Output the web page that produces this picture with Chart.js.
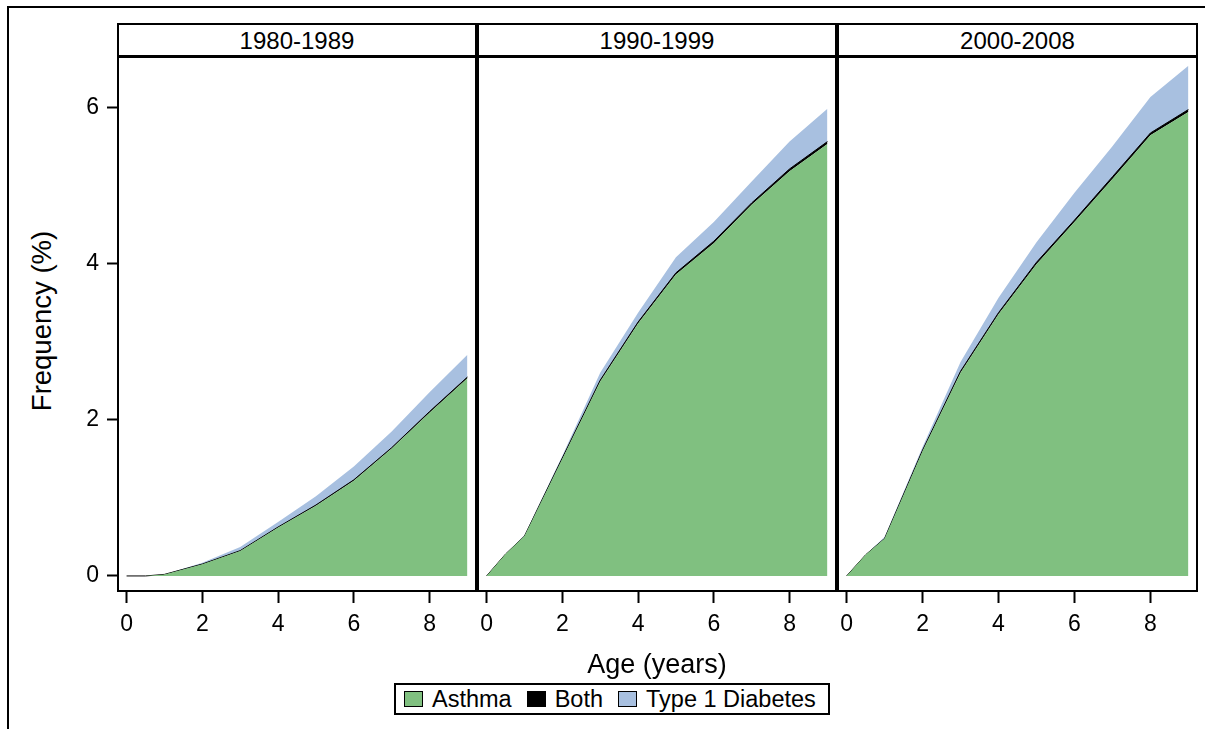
<!DOCTYPE html>
<html>
<head>
<meta charset="utf-8">
<script src="https://cdn.jsdelivr.net/npm/chart.js@4/dist/chart.umd.min.js"></script>
<style>
  html, body { margin:0; padding:0; background:#fff; }
  body { width:1213px; height:729px; position:relative; overflow:hidden; font-family:"Liberation Sans", Arial, sans-serif; color:#000; }
  .frameTop { position:absolute; left:7px; top:6px; width:1198px; height:2px; background:#000; }
  .frameLeft { position:absolute; left:7px; top:6px; width:2px; height:730px; background:#000; }
  .box { position:absolute; top:23px; height:569px; box-sizing:border-box; border:2px solid #000; pointer-events:none; z-index:5; }
  .hdr { position:absolute; left:0; right:0; top:0; height:30px; border-bottom:3px solid #000; text-align:center; font-size:24px; line-height:31px; background:#fff; }
  canvas { position:absolute; }
  .ytitle { position:absolute; left:42px; top:321px; transform:translate(-50%,-50%) rotate(-90deg); font-size:27.5px; white-space:nowrap; }
  .xtitle { position:absolute; left:657px; top:664px; transform:translate(-50%,-50%); font-size:27px; white-space:nowrap; }
  .legend { position:absolute; left:394px; top:683px; width:436px; height:32px; box-sizing:border-box; border:2px solid #000; display:flex; align-items:center; padding-left:8px; font-size:23.5px; white-space:nowrap; }
  .sw { width:19px; height:16px; box-sizing:border-box; border:1.5px solid #000; margin-right:9px; }
  .item { display:flex; align-items:center; margin-right:15px; }
</style>
</head>
<body>
<div class="frameTop"></div>
<div class="frameLeft"></div>

<canvas id="c1" width="415" height="592" style="left:60px; top:58px; width:415px; height:592px;"></canvas>
<canvas id="c2" width="356" height="592" style="left:479px; top:58px; width:356px; height:592px;"></canvas>
<canvas id="c3" width="357" height="592" style="left:839px; top:58px; width:357px; height:592px;"></canvas>

<div class="box" style="left:117px; width:360px;"><div class="hdr" id="h1"></div></div>
<div class="box" style="left:477px; width:360px;"><div class="hdr" id="h2"></div></div>
<div class="box" style="left:837px; width:361px;"><div class="hdr" id="h3"></div></div>

<div class="ytitle">Frequency (%)</div>
<div class="xtitle">Age (years)</div>
<div class="legend" id="legend"></div>

<script>
// ---- Data ----
const panels = ["1980-1989", "1990-1999", "2000-2008"];
const ages = [0, 0.5, 1, 2, 3, 4, 5, 6, 7, 8, 9];
const seriesNames = ["Asthma", "Both", "Type 1 Diabetes"];
const seriesColors = ["#80C080", "#000000", "#A8C0E0"];
const xTicks = [0, 2, 4, 6, 8];
const yTicks = [0, 2, 4, 6];

// layer thickness (%), stacked: Asthma, Both, Type 1 Diabetes
const asthma1980 = [0, 0, 0.02, 0.15, 0.32, 0.62, 0.90, 1.22, 1.63, 2.09, 2.53];
const both1980 = [0, 0, 0, 0.002, 0.004, 0.006, 0.008, 0.010, 0.012, 0.014, 0.016];
const diabetes1980 = [0, 0, 0, 0.018, 0.046, 0.064, 0.112, 0.17, 0.208, 0.246, 0.284];

const asthma1990 = [0, 0.28, 0.51, 1.50, 2.49, 3.23, 3.86, 4.26, 4.75, 5.18, 5.53];
const both1990 = [0, 0, 0, 0.01, 0.015, 0.02, 0.02, 0.025, 0.025, 0.03, 0.03];
const diabetes1990 = [0, 0, 0.01, 0.03, 0.095, 0.12, 0.20, 0.245, 0.275, 0.35, 0.42];

const asthma2000 = [0, 0.27, 0.48, 1.60, 2.60, 3.35, 3.99, 4.53, 5.08, 5.64, 5.94];
const both2000 = [0, 0, 0, 0.01, 0.02, 0.02, 0.025, 0.025, 0.03, 0.03, 0.03];
const diabetes2000 = [0, 0, 0.02, 0.04, 0.12, 0.19, 0.255, 0.35, 0.39, 0.46, 0.56];

const FONT = "'Liberation Sans', Arial, sans-serif";

function pts(arr) { return ages.map((a, i) => ({ x: a, y: arr[i] })); }

function makeChart(id, layers, showY) {
  const ds = layers.map((arr, k) => ({
    label: seriesNames[k],
    data: pts(arr),
    backgroundColor: seriesColors[k],
    borderColor: k === 1 ? "#000" : "rgba(0,0,0,0)",
    borderWidth: k === 1 ? 1 : 0,
    fill: k === 0 ? "origin" : "-1",
    pointRadius: 0,
    pointHoverRadius: 0,
    pointBorderWidth: 0,
    tension: 0
  }));
  const yOpts = {
    stacked: true, min: -0.18, max: 6.63,
    display: showY,
    afterBuildTicks: s => { s.ticks = yTicks.map(v => ({ value: v })); },
    afterFit: s => {
      if (showY) s.width = 59;
      s.paddingTop = 0; s.paddingBottom = 0;
    },
    grid: { drawOnChartArea: false, drawTicks: true, tickLength: 12, tickColor: "#000", tickWidth: 2 },
    border: { display: false },
    ticks: { color: "#000", font: { size: 23, family: FONT }, padding: 8 }
  };
  return new Chart(document.getElementById(id), {
    type: "line",
    data: { datasets: ds },
    options: {
      responsive: false,
      animation: false,
      events: [],
      layout: { padding: 0, autoPadding: false },
      plugins: { legend: { display: false }, tooltip: { enabled: false } },
      scales: {
        x: {
          type: "linear", min: -0.2, max: 9.2,
          afterBuildTicks: s => { s.ticks = xTicks.map(v => ({ value: v })); },
          afterFit: s => { s.height = 60; s.paddingLeft = 0; s.paddingRight = 0; },
          grid: { drawOnChartArea: false, drawTicks: true, tickLength: 13, tickColor: "#000", tickWidth: 2 },
          border: { display: false },
          ticks: { color: "#000", font: { size: 23, family: FONT }, padding: 8, autoSkip: false, maxRotation: 0 }
        },
        y: yOpts
      }
    }
  });
}

makeChart("c1", [asthma1980, both1980, diabetes1980], true);
makeChart("c2", [asthma1990, both1990, diabetes1990], false);
makeChart("c3", [asthma2000, both2000, diabetes2000], false);

document.getElementById("h1").textContent = panels[0];
document.getElementById("h2").textContent = panels[1];
document.getElementById("h3").textContent = panels[2];

const leg = document.getElementById("legend");
seriesNames.forEach((n, k) => {
  const it = document.createElement("div");
  it.className = "item";
  const sw = document.createElement("div");
  sw.className = "sw";
  sw.style.background = seriesColors[k];
  const t = document.createElement("span");
  t.textContent = n;
  it.appendChild(sw); it.appendChild(t);
  leg.appendChild(it);
});
</script>
</body>
</html>
